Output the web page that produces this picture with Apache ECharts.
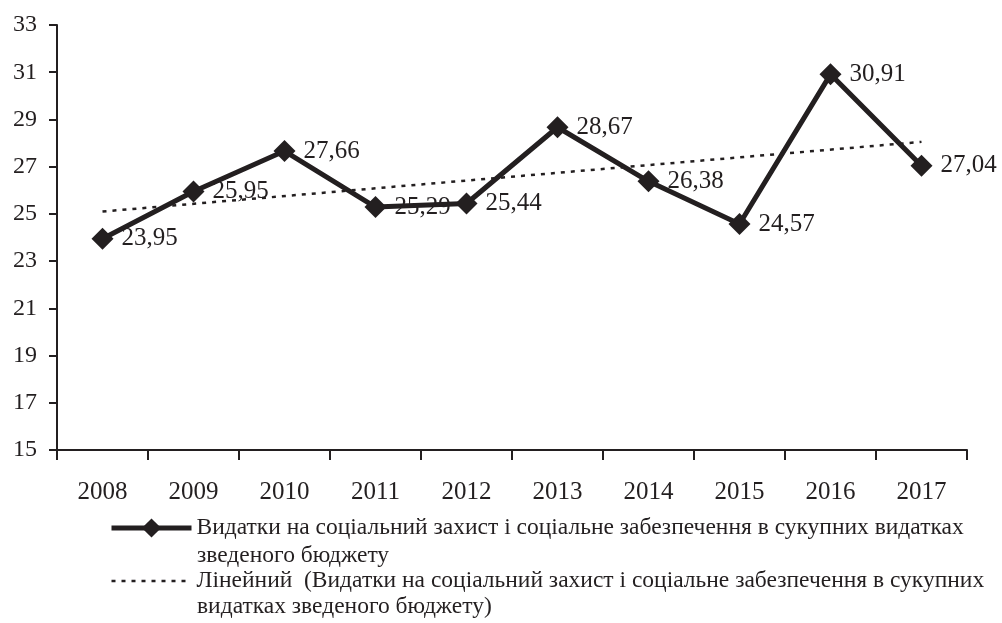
<!DOCTYPE html>
<html>
<head>
<meta charset="utf-8">
<script src="https://cdn.jsdelivr.net/npm/echarts@6/dist/echarts.min.js"></script>
<style>
  html, body { margin: 0; padding: 0; background: #fff; }
  #chart { width: 1002px; height: 623px; }
</style>
</head>
<body>
<div id="chart"></div>
<script>
// Datos del gráfico
var years = ['2008', '2009', '2010', '2011', '2012', '2013', '2014', '2015', '2016', '2017'];
var spending = [23.95, 25.95, 27.66, 25.29, 25.44, 28.67, 26.38, 24.57, 30.91, 27.04];
// línea de tendencia (solo extremos)
var trend = [25.1, null, null, null, null, null, null, null, null, 28.05];
var yTicks = [15, 17, 19, 21, 23, 25, 27, 29, 31, 33];

var seriesName = 'Видатки на соціальний захист і соціальне забезпечення в сукупних видатках';
var trendName = 'Лінейний  (Видатки на соціальний захист і соціальне забезпечення в сукупних';
var seriesName2 = 'зведеного бюджету';
var trendName2 = 'видатках зведеного бюджету)';

var ink = '#231f20';
var font = '"Liberation Serif", "DejaVu Serif", serif';
var legendSize = 23.5;

var myChart = echarts.init(document.getElementById('chart'));

var option = {
    animation: false,
    textStyle: { fontFamily: font, color: ink },
    grid: { left: 57, right: 35, top: 25, bottom: 173 },
    xAxis: {
        type: 'category',
        data: years,
        boundaryGap: true,
        axisLine: { lineStyle: { color: ink, width: 2 } },
        axisTick: { show: true, length: 10, lineStyle: { color: ink, width: 2 } },
        axisLabel: { color: ink, fontSize: 25, fontFamily: font, margin: 30 }
    },
    yAxis: {
        type: 'value',
        min: yTicks[0],
        max: yTicks[yTicks.length - 1],
        interval: 2,
        splitLine: { show: false },
        axisLine: { show: true, lineStyle: { color: ink, width: 2 } },
        axisTick: { show: true, length: 8, lineStyle: { color: ink, width: 2 } },
        axisLabel: { color: ink, fontSize: 24, fontFamily: font, margin: 20 }
    },
    legend: {
        orient: 'vertical',
        left: 104,
        top: 510,
        itemWidth: 80,
        itemHeight: 24,
        itemGap: 27,
        data: [
            { name: seriesName, lineStyle: { width: 5 } },
            { name: trendName, itemStyle: { opacity: 0 }, lineStyle: { width: 2.5, type: [4, 6] } }
        ],
        textStyle: { color: ink, fontSize: legendSize, fontFamily: font, lineHeight: 26 }
    },
    graphic: [
        { type: 'text', left: 197, top: 544, style: { text: seriesName2, fill: ink, fontSize: legendSize, fontFamily: font } },
        { type: 'text', left: 197, top: 595, style: { text: trendName2, fill: ink, fontSize: legendSize, fontFamily: font } }
    ],
    series: [
        {
            name: trendName,
            type: 'line',
            data: trend,
            connectNulls: true,
            symbol: 'none',
            z: 1,
            lineStyle: { color: ink, width: 2.5, type: [4, 6] },
            itemStyle: { color: ink }
        },
        {
            name: seriesName,
            type: 'line',
            data: spending,
            symbol: 'diamond',
            symbolSize: 22,
            z: 3,
            lineStyle: { color: ink, width: 5 },
            itemStyle: { color: ink },
            label: {
                show: true,
                position: 'right',
                distance: 8,
                color: ink,
                fontSize: 25,
                fontFamily: font,
                formatter: function (p) {
                    return p.value.toFixed(2).replace('.', ',');
                }
            }
        }
    ]
};

myChart.setOption(option);
</script>
</body>
</html>
